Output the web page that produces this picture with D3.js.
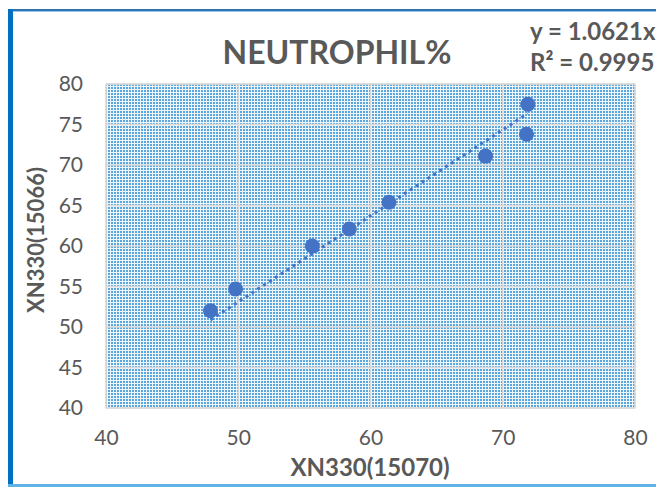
<!DOCTYPE html>
<html><head><meta charset="utf-8">
<script src="https://cdn.jsdelivr.net/npm/d3@7"></script>
<style>html,body{margin:0;padding:0;background:#fff;}svg{display:block;}</style>
</head><body>
<svg id="c" width="656" height="487"></svg>
<script>
const xValues = [47.9, 49.8, 55.6, 58.4, 61.4, 68.7, 71.9, 71.8];
const yValues = [52.0, 54.7, 60.0, 62.1, 65.4, 71.1, 77.5, 73.8];
const xTicks = [40, 50, 60, 70, 80];
const yTicks = [40, 45, 50, 55, 60, 65, 70, 75, 80];
const slope = 1.0621;
const title = "NEUTROPHIL%";
const eqLines = ["y = 1.0621x", "R² = 0.9995"];
const xTitle = "XN330(15070)";
const yTitle = "XN330(15066)";

const svg = d3.select("#c");
const font = "Lato, 'Open Sans', sans-serif";
const grey = "#595959";

// frame
svg.append("rect").attr("x",0).attr("y",0).attr("width",656).attr("height",487).attr("fill","#fff");
svg.append("rect").attr("x",8).attr("y",9).attr("width",660).attr("height",2).attr("fill","#2e75b6");
svg.append("rect").attr("x",8).attr("y",11).attr("width",660).attr("height",1).attr("fill","#9dc3e6");
svg.append("rect").attr("x",8).attr("y",9).attr("width",5).attr("height",480).attr("fill","#0070c0");
svg.append("rect").attr("x",8).attr("y",484).attr("width",660).attr("height",3).attr("fill","#5fb3e8");

const x = d3.scaleLinear().domain([40,80]).range([106,635]);
const y = d3.scaleLinear().domain([40,80]).range([408,84]);

// pattern
const defs = svg.append("defs");
const pat = defs.append("pattern").attr("id","dots").attr("patternUnits","userSpaceOnUse")
  .attr("width",3).attr("height",3);
pat.append("rect").attr("width",3).attr("height",3).attr("fill","#ebf6fd");
pat.append("rect").attr("width",2).attr("height",2).attr("fill","#5ea5da");

svg.append("rect").attr("x",x(40)).attr("y",y(80)).attr("width",x(80)-x(40)).attr("height",y(40)-y(80))
  .attr("fill","url(#dots)").attr("stroke","#d0d0d0").attr("stroke-width",1);

// gridlines
const g = svg.append("g");
g.selectAll(".gx").data(xTicks).join("line")
  .attr("x1",d=>x(d)).attr("x2",d=>x(d)).attr("y1",y(80)).attr("y2",y(40))
  .attr("stroke","#d9d9d9").attr("stroke-width",1.3);
g.selectAll(".gy").data(yTicks).join("line")
  .attr("x1",x(40)).attr("x2",x(80)).attr("y1",d=>y(d)).attr("y2",d=>y(d))
  .attr("stroke","#d9d9d9").attr("stroke-width",1.3);

// axes (labels only)
const xAxis = svg.append("g").attr("transform",`translate(0,${y(40)})`)
  .call(d3.axisBottom(x).tickValues(xTicks).tickSize(0).tickPadding(22));
const yAxis = svg.append("g").attr("transform",`translate(${x(40)},0)`)
  .call(d3.axisLeft(y).tickValues(yTicks).tickSize(0).tickPadding(23));
[xAxis,yAxis].forEach(a=>{
  a.select(".domain").remove();
  a.selectAll("text").attr("fill",grey).style("font-family",font).style("font-size","21px");
});

// trendline
const xmin = d3.min(xValues), xmax = d3.max(xValues);
svg.append("line")
  .attr("x1",x(xmin)).attr("y1",y(slope*xmin)).attr("x2",x(xmax)).attr("y2",y(slope*xmax))
  .attr("stroke","#4472c4").attr("stroke-width",3).attr("stroke-dasharray","3 4");

// points
svg.selectAll(".pt").data(xValues.map((v,i)=>[v,yValues[i]])).join("circle")
  .attr("cx",d=>x(d[0])).attr("cy",d=>y(d[1])).attr("r",7.5).attr("fill","#4472c4");

// title
svg.append("text").attr("x",337).attr("y",64).attr("text-anchor","middle")
  .attr("fill",grey).style("font-family",font).style("font-weight","bold").style("font-size","32px")
  .text(title);
svg.selectAll(".eq").data(eqLines).join("text")
  .attr("x",530).attr("y",(d,i)=>40+i*31)
  .attr("fill",grey).style("font-family",font).style("font-weight","bold").style("font-size","24px")
  .text(d=>d);

svg.append("text").attr("x",370).attr("y",476).attr("text-anchor","middle")
  .attr("fill",grey).style("font-family",font).style("font-weight","bold").style("font-size","24px")
  .text(xTitle);
svg.append("text").attr("transform","translate(44,240) rotate(-90)").attr("text-anchor","middle")
  .attr("fill",grey).style("font-family",font).style("font-weight","bold").style("font-size","22px")
  .text(yTitle);
</script>
</body></html>
